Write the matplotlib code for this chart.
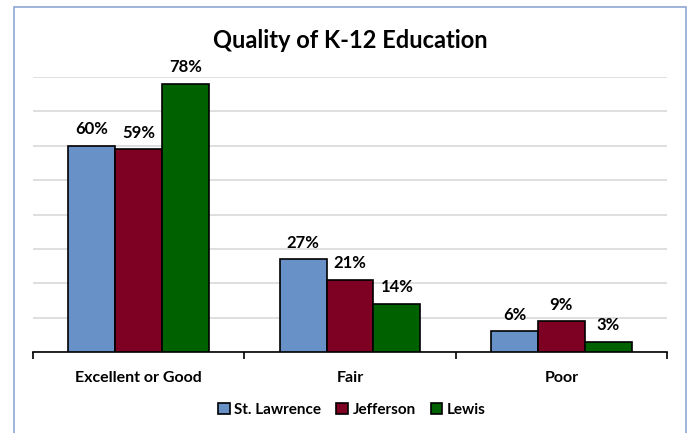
import numpy as np
import matplotlib
matplotlib.use('Agg')
import matplotlib.pyplot as plt
from matplotlib.patches import Rectangle

# Dados do gráfico
categories = ['Excellent or Good', 'Fair', 'Poor']
series_names = ['St. Lawrence', 'Jefferson', 'Lewis']
st_lawrence = [60, 27, 6]
jefferson = [59, 21, 9]
lewis = [78, 14, 3]
colors = ['#6891C7', '#7E0023', '#006100']

plt.rcParams['font.family'] = ['Lato', 'DejaVu Sans']

fig = plt.figure(figsize=(6.88, 4.33), dpi=100)
ax = fig.add_axes([33 / 688, 81 / 433, 634 / 688, 275 / 433])

# moldura azul clara em volta do gráfico
fig.patches.append(Rectangle((14 / 688, -0.05), 672 / 688, 1.05 - 7 / 433,
                             transform=fig.transFigure, fill=False,
                             edgecolor='#8FA6D2', lw=1.2))

x = np.arange(len(categories))
w = 0.222
for i, (vals, name) in enumerate(zip([st_lawrence, jefferson, lewis], series_names)):
    pos = x + (i - 1) * w
    bars = ax.bar(pos, [v / 100 for v in vals], w, color=colors[i],
                  edgecolor='black', lw=1.2, label=name, zorder=3)
    for b, v in zip(bars, vals):
        ax.text(b.get_x() + b.get_width() / 2, b.get_height() + 0.048, f'{v}%',
                ha='center', va='center', fontsize=12, fontweight='bold')

ax.set_ylim(0, 0.8)
ax.set_xlim(-0.5, 2.5)
ax.set_yticks(np.arange(0, 0.81, 0.1))
ax.yaxis.grid(True, color='#DCDCDC', lw=1.3, zorder=0)
ax.tick_params(axis='y', left=False, labelleft=False)
for s in ['left', 'right', 'top']:
    ax.spines[s].set_visible(False)
ax.spines['bottom'].set_lw(1.2)

ax.set_xticks(x)
ax.set_xticklabels(categories, fontsize=11.5, fontweight='bold')
ax.tick_params(axis='x', which='major', length=0, pad=14)
ax.set_xticks([-0.5, 0.5, 1.5, 2.5], minor=True)
ax.tick_params(axis='x', which='minor', length=5, width=1.2, direction='out')

fig.text(350 / 688, 1 - 40 / 433, 'Quality of K-12 Education', ha='center',
         va='center', fontsize=17, fontweight='bold')

ax.legend(loc='center', bbox_to_anchor=(352 / 688, 23 / 433),
          bbox_transform=fig.transFigure, ncol=3, frameon=False,
          handlelength=0.75, handleheight=0.75, handletextpad=0.3,
          columnspacing=1.0, prop={'weight': 'bold', 'size': 11})

fig.savefig('out.png', dpi=100)
